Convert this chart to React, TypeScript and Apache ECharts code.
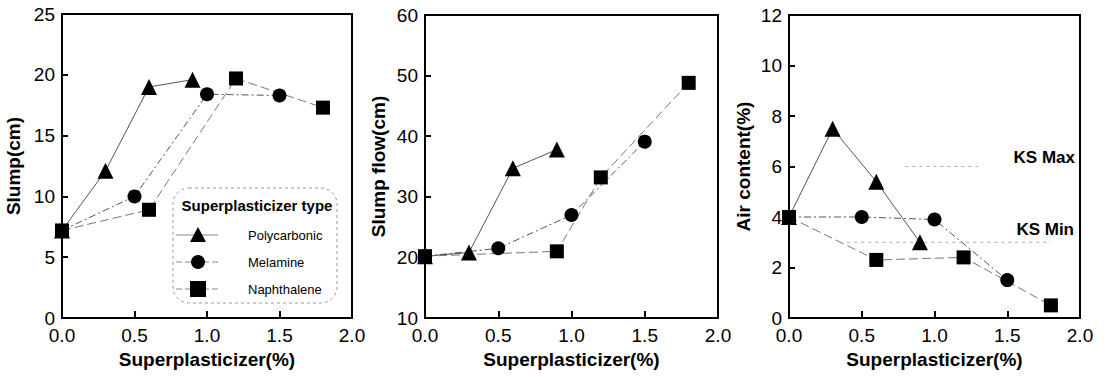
import React, { useEffect, useRef } from "react";
import * as echarts from "echarts";

const FONT = '"Liberation Sans", Arial, Helvetica, sans-serif';

// Panel 1: Slump (cm)
const slumpPoly = [[0, 7.2], [0.3, 12.1], [0.6, 19.0], [0.9, 19.6]];
const slumpMel = [[0, 7.2], [0.5, 10.0], [1.0, 18.4], [1.5, 18.3]];
const slumpNap = [[0, 7.2], [0.6, 8.9], [1.2, 19.7], [1.8, 17.3]];

// Panel 2: Slump flow (cm)
const flowPoly = [[0, 20.2], [0.3, 20.8], [0.6, 34.7], [0.9, 37.8]];
const flowMel = [[0, 20.2], [0.5, 21.5], [1.0, 27.0], [1.5, 39.1]];
const flowNap = [[0, 20.2], [0.9, 21.0], [1.2, 33.2], [1.8, 48.8]];

// Panel 3: Air content (%)
const airPoly = [[0, 4.0], [0.3, 7.5], [0.6, 5.4], [0.9, 3.0]];
const airMel = [[0, 4.0], [0.5, 4.0], [1.0, 3.9], [1.5, 1.5]];
const airNap = [[0, 4.0], [0.6, 2.3], [1.2, 2.4], [1.8, 0.5]];
const ksMax = [[0.8, 6], [1.3, 6]];
const ksMin = [[0.4, 3], [1.8, 3]];

const seriesNames = ["Polycarbonic", "Melamine", "Naphthalene"];
const xTitle = "Superplasticizer(%)";
const yTitles = ["Slump(cm)", "Slump flow(cm)", "Air content(%)"];
const yRanges = [[0, 25, 5], [10, 60, 10], [0, 12, 2]];

export default function App() {
  const ref = useRef<HTMLDivElement>(null);
  useEffect(() => {
    if (!ref.current) return;
    const chart = echarts.init(ref.current, null, { renderer: "svg" });
    const grids = [
      { left: 62, top: 14, width: 290, height: 304 },
      { left: 425, top: 15, width: 293, height: 303 },
      { left: 789, top: 15, width: 291, height: 303 },
    ].map((g) => ({ ...g, show: true, borderColor: "#000", borderWidth: 2, backgroundColor: "transparent" }));

    const xAxes = [0, 1, 2].map((i) => ({
      type: "value",
      gridIndex: i,
      min: 0,
      max: 2,
      interval: 0.5,
      name: xTitle,
      nameLocation: "middle",
      nameGap: 31,
      nameTextStyle: { fontFamily: FONT, fontSize: 19, fontWeight: "bold", color: "#000" },
      axisLine: { show: true, lineStyle: { color: "#000", width: 2 } },
      axisTick: { show: true, inside: true, length: 7, lineStyle: { color: "#000", width: 2 } },
      splitLine: { show: false },
      axisLabel: {
        fontFamily: FONT,
        fontSize: 19,
        color: "#000",
        margin: 8,
        formatter: (v: number) => v.toFixed(1),
      },
    }));

    const yNameGaps = [39, 37, 36];
    const yAxes = [0, 1, 2].map((i) => ({
      type: "value",
      gridIndex: i,
      min: yRanges[i][0],
      max: yRanges[i][1],
      interval: yRanges[i][2],
      name: yTitles[i],
      nameLocation: "middle",
      nameGap: yNameGaps[i],
      nameTextStyle: { fontFamily: FONT, fontSize: 19, fontWeight: "bold", color: "#000" },
      axisLine: { show: true, lineStyle: { color: "#000", width: 2 } },
      axisTick: { show: true, inside: true, length: 6, lineStyle: { color: "#000", width: 2 } },
      splitLine: { show: false },
      axisLabel: { fontFamily: FONT, fontSize: 19, color: "#000", margin: 7 },
    }));

    const styles = [
      { symbol: "triangle", size: 16, type: "solid", color: "#555" },
      { symbol: "circle", size: 14, type: [7, 3, 2, 3], color: "#555" },
      { symbol: "rect", size: 14, type: [9, 4], color: "#777" },
    ];
    const mk = (idx: number, data: number[][], panel: number) => ({
      type: "line",
      name: seriesNames[idx],
      xAxisIndex: panel,
      yAxisIndex: panel,
      data,
      clip: false,
      symbol: styles[idx].symbol,
      symbolSize: styles[idx].size,
      itemStyle: { color: "#000" },
      lineStyle: { color: styles[idx].color, width: 1, type: styles[idx].type },
      z: 3,
    });
    const ks = (data: number[][]) => ({
      type: "line",
      xAxisIndex: 2,
      yAxisIndex: 2,
      data,
      symbol: "none",
      lineStyle: { color: "#aaa", width: 1, type: [3, 4] },
      z: 2,
    });

    const series = [
      mk(0, slumpPoly, 0), mk(1, slumpMel, 0), mk(2, slumpNap, 0),
      mk(0, flowPoly, 1), mk(1, flowMel, 1), mk(2, flowNap, 1),
      ks(ksMax), ks(ksMin),
      mk(0, airPoly, 2), mk(1, airMel, 2), mk(2, airNap, 2),
    ];

    const legX = 173, legY = 188;
    const markerX = 198;
    const rowY = [235, 262, 289];
    const legendItems: any[] = [
      {
        type: "rect",
        shape: { x: legX, y: legY, width: 164, height: 115, r: 16 },
        style: { fill: "none", stroke: "#999", lineWidth: 1, lineDash: [3, 3] },
      },
      {
        type: "text",
        x: 257,
        y: 205,
        style: {
          text: "Superplasticizer type",
          font: `bold 15px ${FONT}`,
          fill: "#000",
          align: "center",
          verticalAlign: "middle",
        },
      },
    ];
    rowY.forEach((y, i) => {
      legendItems.push({
        type: "line",
        shape: { x1: 176, y1: y, x2: 218, y2: y },
        style: { stroke: "#888", lineWidth: 1, lineDash: i === 0 ? null : [6, 3] },
      });
      if (i === 0) {
        legendItems.push({
          type: "polygon",
          shape: { points: [[markerX, y - 8], [markerX - 8, y + 7], [markerX + 8, y + 7]] },
          style: { fill: "#000" },
        });
      } else if (i === 1) {
        legendItems.push({ type: "circle", shape: { cx: markerX, cy: y, r: 7 }, style: { fill: "#000" } });
      } else {
        legendItems.push({ type: "rect", shape: { x: markerX - 8, y: y - 8, width: 16, height: 16 }, style: { fill: "#000" } });
      }
      legendItems.push({
        type: "text",
        x: 248,
        y,
        style: {
          text: seriesNames[i],
          font: `13px ${FONT}`,
          fill: "#000",
          align: "left",
          verticalAlign: "middle",
        },
      });
    });
    legendItems.push(
      {
        type: "text",
        x: 1075,
        y: 157,
        style: { text: "KS Max", font: `bold 17px ${FONT}`, fill: "#000", align: "right", verticalAlign: "middle" },
      },
      {
        type: "text",
        x: 1074,
        y: 229,
        style: { text: "KS Min", font: `bold 17px ${FONT}`, fill: "#000", align: "right", verticalAlign: "middle" },
      }
    );

    chart.setOption({
      animation: false,
      backgroundColor: "#fff",
      textStyle: { fontFamily: FONT },
      grid: grids,
      xAxis: xAxes,
      yAxis: yAxes,
      series,
      graphic: legendItems.map((g) => ({ ...g, z: 10 })),
    } as any);
    return () => chart.dispose();
  }, []);
  return <div ref={ref} style={{ position: "absolute", left: 0, top: 0, width: 1106, height: 377 }} />;
}
